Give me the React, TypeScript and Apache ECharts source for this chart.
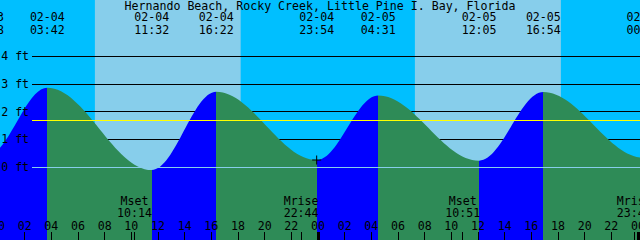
import React, { useEffect, useRef } from 'react';
import * as echarts from 'echarts';

const TITLE = 'Hernando Beach, Rocky Creek, Little Pine I. Bay, Florida';

// Tide extremes (first and last lie just outside the visible window)
const tideDates = ['02-03', '02-03', '02-04', '02-04', '02-04', '02-04', '02-05', '02-05', '02-05', '02-06', '02-06'];
const tideTimes = ['16:00', '23:08', '03:42', '11:32', '16:22', '23:54', '04:31', '12:05', '16:54', '00:27', '05:20'];
const tideHeights = [2.7, 0.4, 2.86, -0.11, 2.71, 0.25, 2.58, 0.23, 2.7, 0.33, 2.5];

// Sun (daylight bands)
const sunDates = ['02-04', '02-05'];
const sunriseTimes = ['07:16', '07:16'];
const sunsetTimes = ['18:12', '18:13'];

// Moon events
const moonDates = ['02-04', '02-04', '02-05', '02-05'];
const moonEvents = ['Mset', 'Mrise', 'Mset', 'Mrise'];
const moonTimes = ['10:14', '22:44', '10:51', '23:43'];

// Axis ticks
const hourTicks = [0, 2, 4, 6, 8, 10, 12, 14, 16, 18, 20, 22, 24, 26, 28, 30, 32, 34, 36, 38, 40, 42, 44, 46, 48];
const midnightTicks = [0, 24, 48];
const footTicks = [0, 1, 2, 3, 4];
const gridLevels = [1, 2, 3, 4];
const datumLevel = 0;
const meanLevel = 1.68;
const markedExtremeIndex = 5;

// Layout constants
const W = 640;
const H = 240;
const PX_PER_H = 40 / 3;
const X0_PX = -2; // pixel of 02-04 00:00
const X_MIN = -1;
const X_MAX = 49;
const Y_MIN = -2.63;
const Y_MAX = 6.02;
const LINE_START_PX = 32;

const FONT = 'DejaVu Sans Mono';
const FS = 11.6;
const BLUE = '#0000FF';
const GREEN = '#2E8B57';
const NIGHT = '#00BFFF';
const DAY = '#87CEEB';

const toHours = (date: string, time: string) => {
  const day = parseInt(date.split('-')[1], 10) - 4;
  const [hh, mm] = time.split(':').map((s) => parseInt(s, 10));
  return day * 24 + hh + mm / 60;
};

const tideH = tideTimes.map((t, i) => toHours(tideDates[i], t));
const tideData = tideH.map((h, i) => [h, tideHeights[i]]);
const moonH = moonTimes.map((t, i) => toHours(moonDates[i], t));
const pad2 = (n: number) => (n < 10 ? '0' : '') + n;

const findIdx = (arr: number[], v: number) => arr.findIndex((a) => Math.abs(a - v) < 1e-6);

const pieces: any[] = [];
pieces.push({ lt: tideH[0], color: GREEN });
for (let i = 0; i < tideH.length - 1; i++) {
  pieces.push({
    gte: tideH[i],
    lt: tideH[i + 1],
    color: tideHeights[i + 1] > tideHeights[i] ? BLUE : GREEN,
  });
}
pieces.push({ gte: tideH[tideH.length - 1], color: BLUE });

const lineStartH = (LINE_START_PX - X0_PX) / PX_PER_H;
const gridLeft = X0_PX + X_MIN * PX_PER_H;
const gridRight = W - (X0_PX + X_MAX * PX_PER_H);

const textBase = { color: '#000', fontFamily: FONT, fontSize: FS };

const baseX = {
  type: 'value',
  min: X_MIN,
  max: X_MAX,
  axisLine: { show: false, onZero: false },
  splitLine: { show: false },
  z: 10,
};

export default function App() {
  const ref = useRef<HTMLDivElement>(null);
  useEffect(() => {
    document.body.style.margin = '0';
    document.body.style.overflow = 'hidden';
    const chart = echarts.init(ref.current!, undefined, { renderer: 'svg' });
    const option: any = {
      animation: false,
      backgroundColor: NIGHT,
      title: {
        text: TITLE,
        left: 'center',
        top: 0.8,
        padding: 0,
        textStyle: { ...textBase, fontWeight: 'normal', lineHeight: 10 },
      },
      grid: {
        left: gridLeft,
        right: gridRight,
        top: 0,
        bottom: 0,
        containLabel: false,
        outerBoundsMode: 'none',
      },
      visualMap: {
        type: 'piecewise',
        show: false,
        dimension: 0,
        seriesIndex: 0,
        pieces,
        outOfRange: { color: GREEN },
      },
      xAxis: [
        {
          ...baseX,
          position: 'bottom',
          axisTick: { show: true, inside: true, length: 8, customValues: hourTicks, lineStyle: { color: '#000', width: 1 } },
          axisLabel: {
            show: true,
            inside: true,
            margin: 8.5,
            customValues: hourTicks,
            formatter: (v: number) => pad2(((Math.round(v) % 24) + 24) % 24),
            ...textBase,
            lineHeight: 12,
          },
        },
        {
          ...baseX,
          position: 'bottom',
          axisTick: { show: true, inside: true, length: 8, customValues: moonH, lineStyle: { color: '#000', width: 1 } },
          axisLabel: {
            show: true,
            inside: true,
            margin: 21.5,
            customValues: moonH,
            formatter: (v: number) => {
              const i = findIdx(moonH, v);
              return i < 0 ? '' : moonEvents[i] + '\n' + moonTimes[i];
            },
            ...textBase,
            lineHeight: 11.5,
          },
        },
        {
          ...baseX,
          position: 'bottom',
          axisTick: { show: true, inside: true, length: 8, customValues: midnightTicks, lineStyle: { color: '#000', width: 3 } },
          axisLabel: { show: false },
        },
        {
          ...baseX,
          position: 'top',
          axisTick: { show: false },
          axisLabel: {
            show: true,
            inside: true,
            margin: 11,
            customValues: tideH,
            formatter: (v: number) => {
              const i = findIdx(tideH, v);
              return i < 0 ? '' : tideDates[i] + '\n' + tideTimes[i];
            },
            ...textBase,
            lineHeight: 12.5,
          },
        },
      ],
      yAxis: {
        type: 'value',
        min: Y_MIN,
        max: Y_MAX,
        position: 'left',
        z: 10,
        axisLine: { show: false, onZero: false },
        axisTick: { show: false },
        splitLine: { show: false },
        axisLabel: {
          show: true,
          inside: true,
          margin: 16.5,
          customValues: footTicks,
          formatter: '{value} ft',
          ...textBase,
        },
      },
      series: [
        {
          name: 'tide',
          type: 'line',
          xAxisIndex: 0,
          yAxisIndex: 0,
          data: tideData,
          smooth: 0.36,
          smoothMonotone: 'x',
          showSymbol: false,
          symbol: 'none',
          lineStyle: { width: 0, opacity: 0 },
          areaStyle: { opacity: 1, origin: 'start' },
          z: 2,
          silent: true,
          markArea: {
            z: 0.5,
            silent: true,
            label: { show: false },
            itemStyle: { color: DAY },
            data: sunDates.map((d, i) => [
              { xAxis: toHours(d, sunriseTimes[i]) },
              { xAxis: toHours(d, sunsetTimes[i]) },
            ]),
          },
          markLine: {
            z: 1,
            silent: true,
            symbol: ['none', 'none'],
            label: { show: false },
            lineStyle: { color: '#000', width: 1, type: 'solid' },
            data: gridLevels.map((v) => [{ coord: [lineStartH, v] }, { coord: [X_MAX, v] }]),
          },
        },
        {
          name: 'guides',
          type: 'line',
          data: [],
          z: 5,
          silent: true,
          markLine: {
            z: 5,
            silent: true,
            symbol: ['none', 'none'],
            label: { show: false },
            data: [
              [
                { coord: [lineStartH, datumLevel], lineStyle: { color: DAY, width: 1, type: 'solid' } },
                { coord: [X_MAX, datumLevel] },
              ],
              [
                { coord: [lineStartH, meanLevel], lineStyle: { color: '#FFFF00', width: 1, type: 'solid' } },
                { coord: [X_MAX, meanLevel] },
              ],
            ],
          },
          markPoint: {
            z: 6,
            silent: true,
            symbol: 'path://M0,4h9v1h-9z M4,0h1v9h-1z',
            symbolSize: 9,
            itemStyle: { color: '#000' },
            label: { show: false },
            data: [{ coord: tideData[markedExtremeIndex] }],
          },
        },
      ],
    };
    chart.setOption(option);
    return () => chart.dispose();
  }, []);
  return <div ref={ref} style={{ width: W, height: H }} />;
}
